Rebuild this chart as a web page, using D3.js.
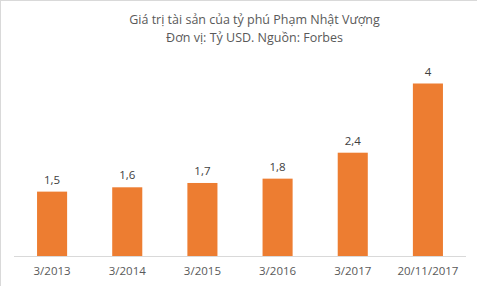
<!DOCTYPE html>
<html>
<head>
<meta charset="utf-8">
<script src="https://cdn.jsdelivr.net/npm/d3@7"></script>
<style>
  body { margin: 0; background: #fff; }
  svg { display: block; font-family: "Open Sans", "Liberation Sans", sans-serif; }
</style>
</head>
<body>
<script>
var categories = ["3/2013", "3/2014", "3/2015", "3/2016", "3/2017", "20/11/2017"];
var values = [1.5, 1.6, 1.7, 1.8, 2.4, 4];
var valueLabels = ["1,5", "1,6", "1,7", "1,8", "2,4", "4"];
var titleLines = ["Giá trị tài sản của tỷ phú Phạm Nhật Vượng", "Đơn vị: Tỷ USD. Nguồn: Forbes"];

var W = 477, H = 286;
var svg = d3.select("body").append("svg").attr("width", W).attr("height", H);

// chart border (top + left only visible)
svg.append("line").attr("x1", 0.5).attr("x2", W).attr("y1", 0.5).attr("y2", 0.5).attr("stroke", "#d9d9d9");
svg.append("line").attr("x1", 0.5).attr("x2", 0.5).attr("y1", 0).attr("y2", H).attr("stroke", "#d9d9d9");

var x = d3.scaleBand().domain(categories).range([14.5, 465.5]).paddingInner(0.6).paddingOuter(0.3);
var y = d3.scaleLinear().domain([0, 4]).range([256.5, 83.5]);

svg.selectAll(".title").data(titleLines).enter().append("text")
    .attr("x", W / 2 + 16).attr("y", function(d, i) { return 24 + i * 18; })
    .attr("text-anchor", "middle").attr("font-size", 12.5).attr("fill", "#595959")
    .text(function(d) { return d; });

svg.selectAll(".bar").data(values).enter().append("rect")
    .attr("x", function(d, i) { return x(categories[i]); })
    .attr("width", x.bandwidth())
    .attr("y", function(d) { return y(d); })
    .attr("height", function(d) { return y(0) - y(d); })
    .attr("fill", "#ed7d31");

svg.selectAll(".lbl").data(values).enter().append("text")
    .attr("x", function(d, i) { return x(categories[i]) + x.bandwidth() / 2; })
    .attr("y", function(d) { return y(d) - 8; })
    .attr("text-anchor", "middle").attr("font-size", 11.5).attr("fill", "#404040")
    .text(function(d, i) { return valueLabels[i]; });

var axis = d3.axisBottom(x).tickSize(0).tickPadding(10);
var g = svg.append("g").attr("transform", "translate(0," + y(0) + ")").call(axis);
g.select(".domain").attr("stroke", "#d9d9d9").attr("d", "M14,0H466");
g.selectAll("text").attr("font-size", 11.5).attr("fill", "#595959").attr("font-family", "Open Sans, Liberation Sans, sans-serif");
</script>
</body>
</html>
